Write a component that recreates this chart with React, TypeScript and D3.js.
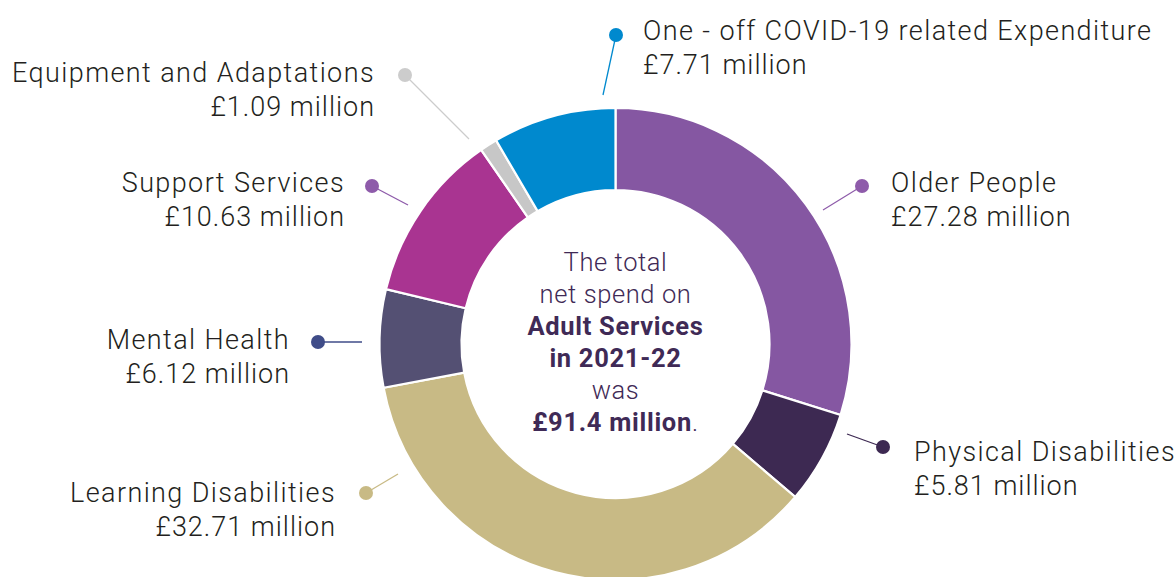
import React from "react";
import * as d3 from "d3";

const categories = [
  "Older People",
  "Physical Disabilities",
  "Learning Disabilities",
  "Mental Health",
  "Support Services",
  "Equipment and Adaptations",
  "One - off COVID-19 related Expenditure",
];
const values = [27.28, 5.81, 32.71, 6.12, 10.63, 1.09, 7.71];
const valueLabels = ["£27.28 million", "£5.81 million", "£32.71 million", "£6.12 million", "£10.63 million", "£1.09 million", "£7.71 million"];
const sliceColors = ["#8557A2", "#3D2952", "#C8BA85", "#545073", "#A93491", "#C7C7C7", "#0089CE"];
const dotColors = ["#8E5BAA", "#3D2952", "#C8BA85", "#3F4C88", "#8E5BAA", "#CCCCCC", "#0089CE"];

// annotation layout: dot position, leader end, label anchor
const layout = [
  { dot: [862, 186], end: [823, 210], tx: 891, ty: 192, anchor: "start" },
  { dot: [883, 447], end: [847, 434], tx: 914, ty: 461, anchor: "start" },
  { dot: [366, 493], end: [398, 474], tx: 336, ty: 502, anchor: "end" },
  { dot: [318, 342], end: [362, 342], tx: 290, ty: 349, anchor: "end" },
  { dot: [372, 186], end: [408, 205], tx: 345, ty: 192, anchor: "end" },
  { dot: [405, 75], end: [469, 139], tx: 375, ty: 82, anchor: "end" },
  { dot: [616, 35], end: [603, 95], tx: 643, ty: 40, anchor: "start" },
];

const W = 1175, H = 577;
const cx = 615.5, cy = 344;
const rOuter = 236, rInner = 154;
const FONT = "Roboto, 'Liberation Sans', Arial, sans-serif";

export default function App() {
  const pie = d3.pie<number>().sort(null).value((d) => d)(values);
  const arc = d3.arc<d3.PieArcDatum<number>>().innerRadius(rInner).outerRadius(rOuter);
  const centerLines = [
    { t: "The total", b: false },
    { t: "net spend on", b: false },
    { t: "Adult Services", b: true },
    { t: "in 2021-22", b: true },
    { t: "was", b: false },
  ];
  return (
    <svg width={W} height={H} style={{ position: "absolute", left: 0, top: 0, background: "#fff" }} fontFamily={FONT}>
      <g transform={`translate(${cx},${cy})`}>
        {pie.map((p, i) => (
          <path key={i} d={arc(p) || ""} fill={sliceColors[i]} stroke="#fff" strokeWidth={2.2} />
        ))}
        {centerLines.map((l, i) => (
          <text key={i} x={0} y={-73 + i * 32} textAnchor="middle" fontSize={25.5} fontWeight={l.b ? 700 : 300}
            letterSpacing={l.b ? 0.7 : 0.6} fill="#3F2A56">
            {l.t}
          </text>
        ))}
        <text x={0} y={-73 + 5 * 32} textAnchor="middle" fontSize={25.5} letterSpacing={0.7} fill="#3F2A56">
          <tspan fontWeight={700}>£91.4 million</tspan>
          <tspan fontWeight={300}>.</tspan>
        </text>
      </g>
      {layout.map((l, i) => (
        <g key={i}>
          <line x1={l.dot[0]} y1={l.dot[1]} x2={l.end[0]} y2={l.end[1]} stroke={dotColors[i]} strokeWidth={1.3} />
          <circle cx={l.dot[0]} cy={l.dot[1]} r={7} fill={dotColors[i]} />
          <text x={l.tx} y={l.ty} textAnchor={l.anchor as any} fontSize={27} fontWeight={300} letterSpacing={1.4} fill="#231F20">
            {categories[i]}
          </text>
          <text x={l.tx} y={l.ty + 34} textAnchor={l.anchor as any} fontSize={27} fontWeight={300} letterSpacing={1.0} fill="#231F20">
            {valueLabels[i]}
          </text>
        </g>
      ))}
    </svg>
  );
}
